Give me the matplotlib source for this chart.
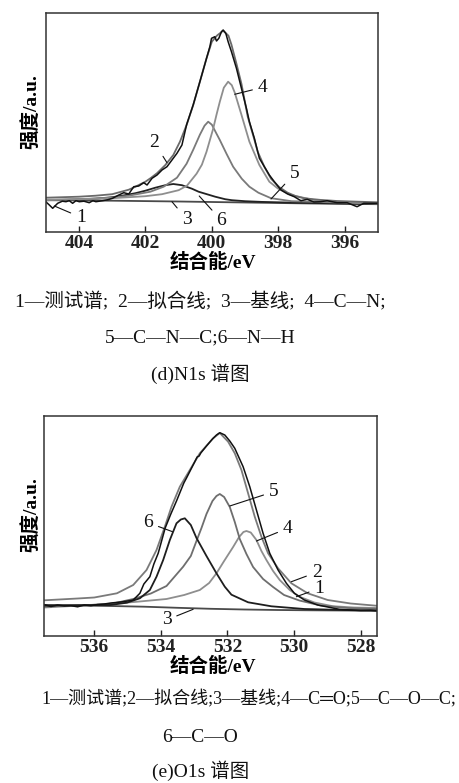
import matplotlib
matplotlib.use("Agg")
import matplotlib.pyplot as plt

# ---------------- N1s data (binding energy eV, intensity a.u.) ----------------
n_base_x = [405, 403, 401, 399, 397, 395]
n_base_y = [31.5, 31.0, 30.2, 29.2, 28.2, 27.5]

n_c4_x = [405, 404, 403, 402, 401.5, 401.0, 400.75, 400.46, 400.3, 400.16, 399.96, 399.86, 399.76,
          399.64, 399.51, 399.40, 399.31, 399.11, 398.87, 398.57, 398.27, 398.02, 397.62, 396.93,
          396.23, 395.0]
n_c4_y = [32, 32.5, 33.5, 35.5, 37.5, 41.5, 46, 58, 67, 80, 103, 117, 130,
          144, 150, 146.5, 139, 117, 90, 66.7, 50, 43.4, 36.7, 31.7,
          29.7, 28.4]

n_c5_x = [405, 404, 403, 402.5, 401.85, 401.45, 401.05, 400.76, 400.56, 400.36, 400.22, 400.11,
          400.0, 399.86, 399.76, 399.56, 399.36, 399.1, 398.87, 398.6, 398.22, 397.6, 396.0, 395.0]
n_c5_y = [31.5, 32.5, 34, 36, 40, 45, 54, 68, 82, 97, 106, 110,
          107, 98, 91.7, 78, 65, 53, 45, 39, 33.5, 30.5, 29, 28]

n_c6_x = [405, 404.5, 404, 403.5, 403, 402.7, 402.3, 402.0, 401.7, 401.4, 401.16, 400.9,
          400.6, 400.4, 400.1, 399.9, 399.6, 399.4, 399.0, 398.5, 397.5, 396.0, 395.0]
n_c6_y = [31.5, 31.8, 32.3, 33, 34.5, 36, 38.5, 41, 44, 46.5, 47.7, 46.5,
          43, 40, 37, 35, 32.5, 31.5, 30.5, 29.8, 29, 28.2, 27.8]

n_fit_x = [405, 404.5, 404, 403.5, 403, 402.5, 402.3, 402.0, 401.85, 401.65, 401.4, 401.16,
           400.96, 400.76, 400.56, 400.36, 400.16, 400.0, 399.85, 399.66, 399.5, 399.41, 399.26,
           399.11, 398.92, 398.72, 398.62, 398.42, 398.22, 397.97, 397.72, 397.47, 397.22,
           396.73, 396.23, 395.6, 395.0]
n_fit_y = [34, 34.5, 35, 36, 37.5, 42, 45, 50, 53.4, 58.5, 66.7, 76.7,
           90, 106.7, 126.7, 150, 173.4, 190, 196, 201, 196, 187, 168,
           148, 115, 92, 80, 65, 53, 44.5, 39, 35.5, 33.4,
           31.8, 30.7, 30, 29.4]

n_raw_x = [405.0, 404.9, 404.79, 404.64, 404.5, 404.39, 404.29, 404.19, 404.09, 403.99, 403.85,
           403.69, 403.58, 403.49, 403.29, 403.13, 402.99, 402.8, 402.65, 402.5, 402.35, 402.2,
           402.05, 401.95, 401.8, 401.65, 401.5, 401.35, 401.2, 401.05, 400.9, 400.76, 400.56,
           400.36, 400.16, 400.06, 400.01, 399.91, 399.86, 399.79, 399.71, 399.66, 399.58,
           399.51, 399.41, 399.26, 399.11, 398.96, 398.87, 398.72, 398.57, 398.42, 398.27,
           398.12, 397.92, 397.72, 397.52, 397.32, 397.13, 396.93, 396.73, 396.53, 396.23,
           395.93, 395.63, 395.43, 395.03]
n_raw_y = [30, 27, 23.4, 28.4, 30.5, 30, 31, 28.4, 31, 30, 30.5,
           29, 31, 30, 31, 32, 33.4, 36.7, 39, 37.7, 45, 45.7,
           49, 46.7, 53.4, 56.7, 61.7, 65, 71.7, 78.4, 86.7, 107, 127,
           150, 173.4, 185, 193.4, 195, 190.7, 193.4, 200, 201.7, 198.4,
           190, 180, 163.4, 143.4, 123.4, 110, 93.4, 73.4, 65, 56.7,
           50, 41.7, 37.7, 35, 31, 32.4, 29.7, 30, 31, 29,
           29, 25, 28.4, 28.4]

# ---------------- O1s data ----------------
o_base_x = [537.5, 536.5, 535.5, 534.5, 533.5, 532.5, 531.5, 530.5, 529.5, 527.5]
o_base_y = [31, 30.5, 30, 29.3, 28.2, 27.2, 26.5, 26, 25.7, 25.3]

o_c6_x = [537.5, 536.5, 535.52, 535.02, 534.63, 534.33, 534.13, 533.93, 533.73, 533.53, 533.4,
          533.28, 533.1, 532.93, 532.63, 532.33, 532.08, 531.88, 531.38, 530.68, 529.69, 528.5, 527.5]
o_c6_y = [30.5, 30.8, 31, 33.3, 37.7, 46, 59.3, 76, 96, 112.7, 116.5,
          117.7, 111, 98, 80, 62.7, 49.3, 41.3, 33.7, 29.7, 27, 26, 25.3]

o_c5_x = [537.5, 536.5, 535.5, 534.83, 534.3, 533.83, 533.33, 533.1, 532.93, 532.78, 532.63,
          532.45, 532.33, 532.23, 532.1, 531.93, 531.78, 531.63, 531.43, 531.23, 530.93, 530.63,
          530.3, 529.84, 529.2, 528.4, 527.5]
o_c5_y = [29.5, 30.5, 32, 37, 42.5, 50, 69.3, 80, 95, 108, 122,
          135, 140, 142, 139, 129, 114, 97, 82, 69, 57, 49,
          41, 35.5, 30.5, 28, 27]

o_c4_x = [537.5, 535.82, 534.8, 533.83, 533.3, 532.83, 532.55, 532.33, 532.1, 531.83, 531.65,
          531.52, 531.43, 531.3, 531.13, 530.98, 530.83, 530.63, 530.43, 530.13, 529.84, 529.39,
          528.84, 528.2, 527.5]
o_c4_y = [28.5, 31.5, 34, 37, 41, 46, 53, 62.7, 75, 89, 99,
          104, 105, 103.5, 96, 85, 76, 65, 56, 46, 39.3, 33.5,
          29.8, 28.5, 28]

o_fit_x = [537.5, 536.5, 536.0, 535.32, 534.83, 534.43, 534.13, 533.88, 533.68, 533.43, 533.13,
           532.83, 532.43, 532.23, 531.98, 531.78, 531.58, 531.38, 531.18, 530.98, 530.78,
           530.48, 530.08, 529.59, 528.99, 528.3, 527.54]
o_fit_y = [35.7, 37.5, 38.5, 42.7, 51, 66, 86, 109.3, 129.3, 149.3, 166,
           182.7, 197.7, 203, 194.3, 182.7, 166, 142.7, 119.3, 99.3, 82.7,
           67.7, 52.7, 42.7, 36, 32.5, 30.3]

o_raw_x = [537.5, 537.3, 537.1, 536.9, 536.7, 536.5, 536.3, 536.1, 535.9, 535.7, 535.5, 535.2,
           534.9, 534.83, 534.71, 534.63, 534.51, 534.33, 534.21, 534.08, 533.87, 533.7, 533.53,
           533.31, 533.23, 533.0, 532.91, 532.85, 532.8, 532.63, 532.45, 532.33, 532.23, 532.08,
           531.93, 531.78, 531.53, 531.33, 531.13, 530.93, 530.73, 530.48, 530.23, 529.99,
           529.69, 529.29, 528.79, 528.64, 528.3, 528.0, 527.7, 527.5]
o_raw_y = [31.3, 29.5, 31, 30, 30.3, 29.2, 31, 30.3, 31.5, 32, 33, 34,
           35.5, 36, 40, 42.7, 52, 59.3, 72, 82.7, 108, 122, 135,
           153, 158, 173, 179, 180, 183, 190, 197, 201, 203.3, 201,
           195, 187.7, 169.3, 149.3, 126, 102.7, 82.7, 66, 52.7, 42.7,
           36, 31, 27.7, 26.7, 26, 25.5, 25.8, 25.3]

n_ticks = [404, 402, 400, 398, 396]
o_ticks = [536, 534, 532, 530, 528]

CJK = ['Liberation Serif', 'Noto Sans CJK SC', 'DejaVu Sans']
plt.rcParams['font.family'] = CJK

W, H = 459, 783
fig = plt.figure(figsize=(W / 100, H / 100), dpi=100)

def fx(px):
    return px / W

def fy(py):
    return 1 - py / H

ax1 = fig.add_axes([fx(45.7), fy(231.7), fx(378) - fx(45.7), fy(13.3) - fy(231.7)])
ax2 = fig.add_axes([fx(44.3), fy(636), fx(377.3) - fx(44.3), fy(416) - fy(636)])

def style(ax, xlim, ylim, ticks, pad):
    ax.set_xlim(*xlim)
    ax.set_ylim(*ylim)
    ax.set_xticks(ticks)
    ax.set_xticklabels([str(t) for t in ticks], fontweight='bold', fontsize=14,
                       family='Liberation Serif')
    ax.set_yticks([])
    ax.tick_params(axis='x', direction='in', length=4.5, width=1, pad=pad, colors='#222222')
    for s in ax.spines.values():
        s.set_color('#333333')
        s.set_linewidth(1.1)

lw = 1.3
# N1s
ax1.plot(n_base_x, n_base_y, color='#4a4a4a', lw=lw)
ax1.plot(n_c6_x, n_c6_y, color='#222222', lw=lw)
ax1.plot(n_c5_x, n_c5_y, color='#7a7a7a', lw=lw)
ax1.plot(n_c4_x, n_c4_y, color='#8e8e8e', lw=lw)
ax1.plot(n_fit_x, n_fit_y, color='#6a6a6a', lw=lw)
ax1.plot(n_raw_x, n_raw_y, color='#111111', lw=1.1)
style(ax1, (405, 395), (0, 218.4), n_ticks, 2.5)

# O1s
ax2.plot(o_base_x, o_base_y, color='#4a4a4a', lw=lw)
ax2.plot(o_c4_x, o_c4_y, color='#8e8e8e', lw=lw)
ax2.plot(o_c5_x, o_c5_y, color='#6e6e6e', lw=lw)
ax2.plot(o_c6_x, o_c6_y, color='#1e1e1e', lw=lw)
ax2.plot(o_fit_x, o_fit_y, color='#7a7a7a', lw=lw)
ax2.plot(o_raw_x, o_raw_y, color='#111111', lw=1.1)
style(ax2, (537.5, 527.5), (0, 220), o_ticks, 2)

def note(ax, label, xy, xytext):
    ax.annotate(label, xy=xy, xytext=xytext, ha='center', va='center',
                fontsize=14, family='Liberation Serif', color='#111111',
                arrowprops=dict(arrowstyle='-', color='#111111', lw=0.8,
                                shrinkA=2, shrinkB=0))

note(ax1, '1', (404.74, 25.7), (403.94, 14.4))
note(ax1, '2', (401.35, 69), (401.73, 89))
note(ax1, '3', (401.2, 30), (400.76, 12.4))
note(ax1, '4', (399.31, 137.4), (398.47, 144.4))
note(ax1, '5', (398.22, 32.7), (397.52, 57.7))
note(ax1, '6', (400.38, 35.7), (399.71, 11))

note(ax2, '6', (533.65, 104.3), (534.38, 113.3))
note(ax2, '5', (531.93, 130), (530.61, 144.3))
note(ax2, '4', (531.13, 95), (530.19, 107.7))
note(ax2, '2', (530.08, 54.3), (529.32, 63.7))
note(ax2, '1', (529.93, 39.3), (529.24, 47.7))
note(ax2, '3', (533.03, 26.7), (533.83, 16))

# axis labels
ylab = dict(rotation=90, ha='center', va='center', fontsize=14, fontweight='bold', family=CJK)
fig.text(fx(31.5), fy(111.7), '强度/a.u.', **ylab)
fig.text(fx(31.5), fy(515), '强度/a.u.', **ylab)
xlab = dict(ha='center', va='center', fontsize=14, fontweight='bold', family=CJK)
fig.text(fx(213), fy(262.5), '结合能/eV', **xlab)
fig.text(fx(213), fy(666), '结合能/eV', **xlab)

sp = ';\u2002'
cap = dict(ha='center', va='center', fontsize=14, family=CJK, color='#111111')
fig.text(fx(200), fy(302), '1—测试谱' + sp + '2—拟合线' + sp + '3—基线' + sp + '4—C—N;', **cap)
fig.text(fx(200), fy(337.5), '5—C—N—C;6—N—H', **cap)
fig.text(fx(200), fy(373.5), '(d)N1s 谱图', **cap)
fig.text(fx(456), fy(699), '1—测试谱;2—拟合线;3—基线;4—C═O;5—C—O—C;',
         **{**cap, 'ha': 'right', 'fontsize': 13})
fig.text(fx(200), fy(738), '6—C—O', **cap)
fig.text(fx(201), fy(771), '(e)O1s 谱图', **cap)

fig.savefig('out.png', dpi=100)
